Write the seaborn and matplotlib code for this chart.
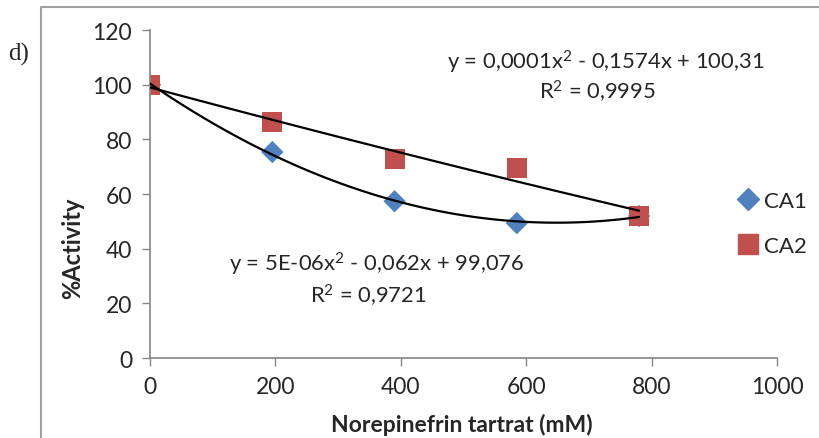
import numpy as np
import pandas as pd
import matplotlib
matplotlib.use('Agg')
import matplotlib.pyplot as plt
from matplotlib.lines import Line2D
import seaborn as sns

# Data
conc = [0, 195, 390, 585, 780]
ca1 = [100, 75.4, 57.4, 49.4, 52]
ca2 = [100, 86.3, 72.8, 69.5, 52]
series = ['CA1', 'CA2']
eq_top = ['y = 0,0001x$^2$ - 0,1574x + 100,31', 'R$^2$ = 0,9995']
eq_bottom = ['y = 5E-06x$^2$ - 0,062x + 99,076', 'R$^2$ = 0,9721']

df = pd.DataFrame({
    'conc': conc * 2,
    'activity': ca1 + ca2,
    'series': ['CA1'] * len(conc) + ['CA2'] * len(conc),
})

sns.set_style('white')
plt.rcParams['font.family'] = ['Lato', 'DejaVu Sans']
plt.rcParams['mathtext.fontset'] = 'custom'
plt.rcParams['mathtext.rm'] = 'Lato'
plt.rcParams['mathtext.default'] = 'regular'

colors = {'CA1': '#4F81BD', 'CA2': '#C0504D'}
markers = {'CA1': 'D', 'CA2': 's'}
sizes = {'CA1': 130, 'CA2': 210}

fig = plt.figure(figsize=(8.2, 4.39), dpi=100)
ax = fig.add_axes([0.183, 0.182, 0.7646, 0.747])

for s in series:
    sub = df[df['series'] == s]
    sns.scatterplot(data=sub, x='conc', y='activity', marker=markers[s],
                    color=colors[s], s=sizes[s], edgecolor='none', ax=ax,
                    zorder=2, legend=False)
# quadratic trendlines
for s in series:
    sub = df[df['series'] == s]
    sns.regplot(data=sub, x='conc', y='activity', order=2, ci=None,
                scatter=False, truncate=True, color='black',
                line_kws={'linewidth': 1.6, 'zorder': 3}, ax=ax)

ax.set_xlim(0, 1000)
ax.set_ylim(0, 120)
ax.set_xticks(range(0, 1001, 200))
ax.set_yticks(range(0, 121, 20))
ax.tick_params(axis='both', labelsize=16.5, length=6, width=1, color='#868686',
               direction='out', pad=7, bottom=True, left=True)
for side in ['top', 'right']:
    ax.spines[side].set_visible(False)
for side in ['left', 'bottom']:
    ax.spines[side].set_color('#868686')
    ax.spines[side].set_linewidth(1.2)

ax.set_xlabel('')
ax.set_ylabel('')
fig.text(462 / 820, 1 - 425 / 439, 'Norepinefrin tartrat (mM)', fontsize=16.5,
         fontweight='bold', ha='center', va='center')
fig.text(73 / 820, 1 - 248 / 439, '%Activity', fontsize=17, fontweight='bold',
         rotation=90, ha='center', va='center')

ax.text(727, 108.7, eq_top[0], fontsize=15.8, ha='center', va='center')
ax.text(714, 97.7, eq_top[1], fontsize=15.8, ha='center', va='center')
ax.text(362, 34.8, eq_bottom[0], fontsize=15.8, ha='center', va='center')
ax.text(348, 23, eq_bottom[1], fontsize=15.8, ha='center', va='center')

handles = [Line2D([], [], linestyle='none', marker=markers[s], color=colors[s],
                  markersize=11 if s == 'CA1' else 14) for s in series]
fig.legend(handles, series, loc='center left', bbox_to_anchor=(0.872, 0.489),
           frameon=False, fontsize=16, handletextpad=0.1, labelspacing=1.15,
           handlelength=1.2)

fig.text(0.01, 0.877, 'd)', fontsize=18, family='Liberation Serif', va='center')
fig.add_artist(Line2D([0.05, 0.05, 1.0], [0.0, 0.982, 0.982],
                      transform=fig.transFigure, color='#A0A0A0', linewidth=1.5))

fig.savefig('out.png', dpi=100)
